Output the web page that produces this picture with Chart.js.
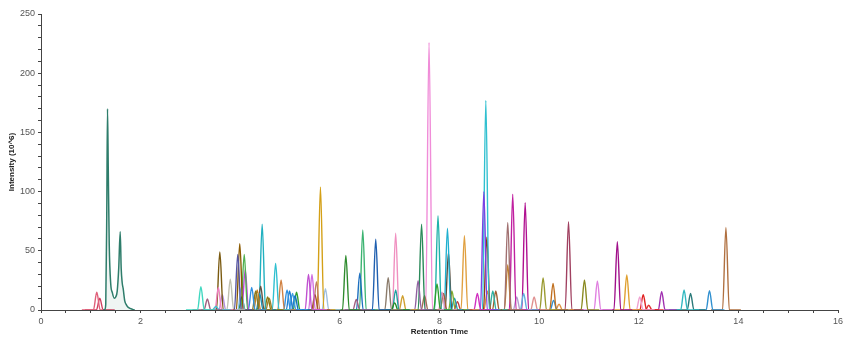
<!DOCTYPE html>
<html>
<head>
<meta charset="utf-8">
<script src="https://cdn.jsdelivr.net/npm/chart.js@4"></script>
<style>
  html, body { margin: 0; padding: 0; background: #fff; }
  #wrap { width: 853px; height: 348px; }
</style>
</head>
<body>
<div id="wrap"><canvas id="graph"></canvas></div>
<script>
// first (solvent front) trace, read point by point
const leadTimes = [1.25, 1.28, 1.30, 1.32, 1.335, 1.35, 1.37, 1.40, 1.43, 1.47, 1.50, 1.53, 1.56, 1.59, 1.61, 1.63, 1.65, 1.68, 1.72, 1.76, 1.84, 1.88];
const leadIntensity = [0, 0.5, 5, 80, 170, 120, 55, 22, 15, 10, 11, 16, 35, 66, 35, 23, 18, 8, 4, 2, 0.5, 0];

// apex of every other peak
const peakTimes = [
  1.12, 1.18, 3.21, 3.34, 3.51, 3.56, 3.59, 3.64, 3.80, 3.95,
  3.99, 4.02, 4.03, 4.08, 4.10, 4.23, 4.31, 4.34, 4.39, 4.41,
  4.44, 4.55, 4.58, 4.71, 4.82, 4.94, 4.99, 5.05, 5.10, 5.13,
  5.37, 5.44, 5.50, 5.53, 5.61, 5.71, 6.12, 6.33, 6.40, 6.46,
  6.72, 6.97, 7.10, 7.12, 7.12, 7.26, 7.57, 7.64, 7.70, 7.79,
  7.95, 7.97, 8.05, 8.08, 8.16, 8.18, 8.25, 8.30, 8.36, 8.50,
  8.76, 8.89, 8.93, 8.95, 8.96, 9.07, 9.13, 9.37, 9.37, 9.47,
  9.55, 9.69, 9.72, 9.90, 10.08, 10.28, 10.29, 10.40, 10.59, 10.91,
  11.17, 11.57, 11.76, 12.02, 12.09, 12.20, 12.46, 12.91, 13.04, 13.42,
  13.75
];
const peakHeights = [
  15, 10, 19.7, 9.3, 3, 19, 49, 13, 26, 47,
  56, 19, 11, 47, 34, 19, 16, 17, 14, 20,
  72.4, 11, 10, 39.4, 25.3, 17, 16, 14, 12, 15,
  30, 30, 13, 24, 104, 18, 46, 9, 31, 67.6,
  59.7, 27.3, 6, 17, 64.8, 12, 24.8, 72.4, 12, 226,
  22, 79.7, 15, 14, 69, 48.4, 16, 10, 7, 62.8,
  14, 100, 177, 61.4, 16, 16, 16, 74, 38, 97.7,
  11, 14, 90.6, 11, 27, 22.5, 8, 5, 74.6, 25.3,
  24.5, 57.7, 29.6, 11, 13, 4, 15.5, 16.9, 14, 16.3,
  69.8
];

// trace colours, one per peak
const peakColors = [
  '#e0607a', '#d04060', '#40d8c0', '#a06080', '#40c0d0', '#f080c0', '#7a5a10', '#b090e0', '#c0c0b0', '#5555a5',
  '#8b5a00', '#80c0f0', '#208040', '#50b050', '#c040e0', '#3090e0', '#8a7a20', '#c08020', '#2090b0', '#605040',
  '#20b0c0', '#8a7a10', '#a08030', '#30c0d0', '#d08040', '#3090e0', '#2080d0', '#40a0e0', '#1070c0', '#30a030',
  '#c050d0', '#d070e0', '#a05030', '#c08060', '#d4a017', '#a0c0e0', '#2e8b2e', '#a06080', '#1e70c0', '#3cb371',
  '#2060b0', '#8b7b6b', '#228b22', '#20a0a0', '#f090c0', '#d0a030', '#9060a0', '#2a8a5a', '#a07050', '#f08cd8',
  '#30a030', '#20b2aa', '#e090c0', '#a06030', '#20b0d0', '#5a4a3a', '#80b030', '#20a0b0', '#c04040', '#e0a040',
  '#d030c0', '#7b3fe4', '#30c0d0', '#8b3a13', '#e09040', '#30b0a0', '#a06030', '#a07070', '#c08030', '#c020a0',
  '#b0a0d0', '#60b0e0', '#b01090', '#e09090', '#9a9a30', '#c07020', '#3090d0', '#e09040', '#a04060', '#8a8a20',
  '#e080e0', '#a0108a', '#e0a030', '#f0a0d0', '#e02020', '#e03030', '#a030b0', '#30b8c0', '#2a7a7a', '#3090d0',
  '#b07040'
];

const halfWidth = 0.068;
const baseRun = 0.3;

const datasets = [{
  data: leadTimes.map((t, i) => ({ x: t, y: leadIntensity[i] })),
  borderColor: '#2e7d6b',
  backgroundColor: 'rgba(46,125,107,0.08)',
  fill: 'origin',
  borderWidth: 1.5
}];

peakTimes.forEach((t, i) => {
  datasets.push({
    data: [
      { x: t - baseRun, y: 0 },
      { x: t - halfWidth, y: 0 },
      { x: t, y: peakHeights[i] },
      { x: t + halfWidth, y: 0 },
      { x: t + baseRun, y: 0 }
    ],
    borderColor: peakColors[i],
    borderWidth: 1.4,
    fill: false
  });
});

new Chart(document.getElementById('graph'), {
  type: 'line',
  data: { datasets },
  options: {
    responsive: true,
    maintainAspectRatio: false,
    animation: false,
    elements: {
      point: { radius: 0 },
      line: { cubicInterpolationMode: 'monotone' }
    },
    layout: { padding: { top: 14, right: 15, left: 7, bottom: 11 } },
    plugins: {
      legend: { display: false },
      tooltip: { enabled: false }
    },
    scales: {
      x: {
        type: 'linear',
        min: 0,
        max: 16,
        afterFit: scale => { scale.height = 27; },
        grid: { drawOnChartArea: false, tickLength: 3, color: '#444' },
        border: { color: '#444', width: 1 },
        ticks: {
          stepSize: 0.5,
          autoSkip: false,
          maxRotation: 0,
          padding: 3,
          color: '#555',
          font: { family: 'Arial, Liberation Sans, sans-serif', size: 9 },
          callback: v => (v % 2 === 0 ? v : '')
        },
        title: {
          display: true,
          text: 'Retention Time',
          color: '#222',
          padding: { top: 0, bottom: 0 },
          font: { family: 'Arial, Liberation Sans, sans-serif', size: 8, weight: 'bold' }
        }
      },
      y: {
        min: 0,
        max: 250,
        afterFit: scale => { scale.width = 34; },
        grid: { drawOnChartArea: false, tickLength: 3, color: '#444' },
        border: { color: '#444', width: 1 },
        ticks: {
          stepSize: 10,
          autoSkip: false,
          padding: 3,
          color: '#555',
          font: { family: 'Arial, Liberation Sans, sans-serif', size: 9 },
          callback: v => (v % 50 === 0 ? v : '')
        },
        title: {
          display: true,
          text: 'Intensity (10^6)',
          color: '#222',
          padding: { top: 0, bottom: 2 },
          font: { family: 'Arial, Liberation Sans, sans-serif', size: 8, weight: 'bold' }
        }
      }
    }
  }
});
</script>
</body>
</html>
